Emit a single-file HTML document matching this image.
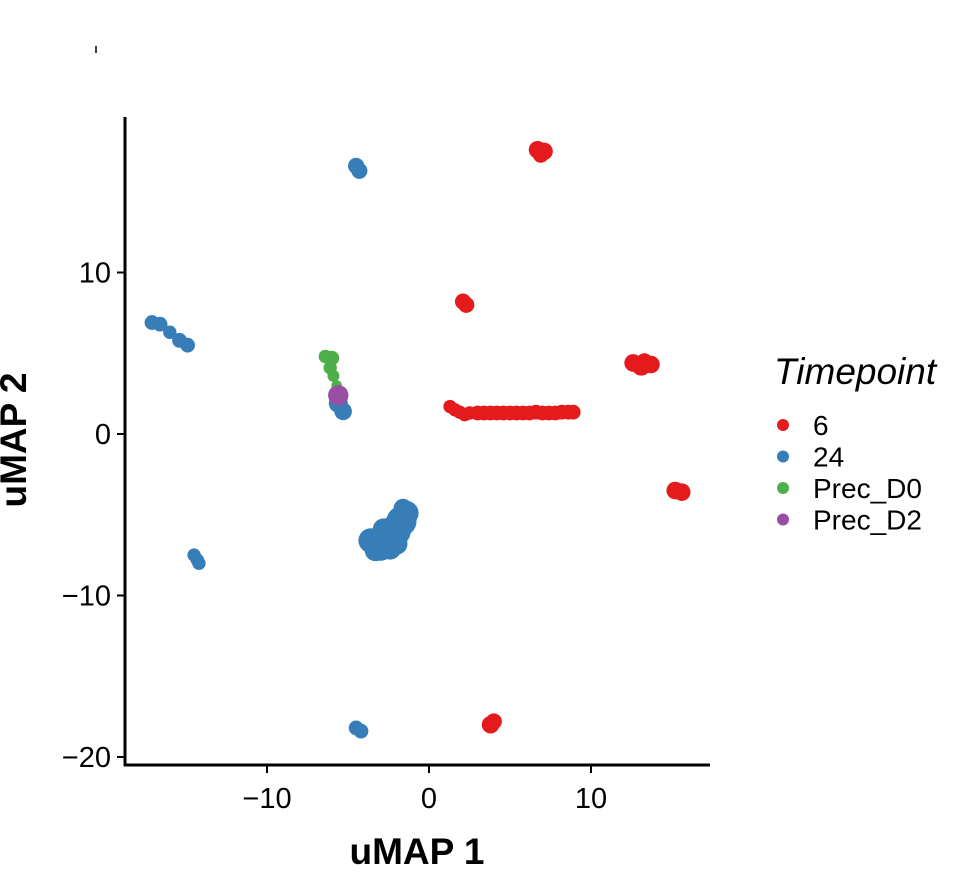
<!DOCTYPE html>
<html><head><meta charset="utf-8"><style>
body{margin:0;background:#fff}
svg text{font-family:"Liberation Sans",sans-serif}
</style></head><body>
<svg id="c" width="969" height="877" xmlns="http://www.w3.org/2000/svg">
<line x1="96" y1="46" x2="96" y2="53" stroke="#000" stroke-width="1.5"/>
<g id="pts"></g>
<g id="ax"></g>
</svg>
<script>
const xTicks=[-10,0,10];
const yTicks=[10,0,-10,-20];
const groups=["6","24","Prec_D0","Prec_D2"];
const colors=["#E41A1C","#377EB8","#4DAF4A","#984EA3"];
// [x, y, radius-in-units] points per group
const pts6=[[6.7,17.6,0.45],[7.1,17.5,0.45],[6.9,17.3,0.4],[2.1,8.2,0.4],[2.3,8.0,0.4],[12.6,4.4,0.45],[13.1,4.2,0.5],[13.7,4.3,0.45],[13.3,4.5,0.4],[15.2,-3.5,0.45],[15.6,-3.6,0.45],[3.8,-18.0,0.45],[4.0,-17.8,0.4],
[1.3,1.7,0.3],[1.6,1.5,0.3],[1.9,1.35,0.3],[2.2,1.2,0.3],[2.5,1.3,0.3],
[3.0,1.3,0.35],[3.4,1.3,0.35],[3.8,1.3,0.35],[4.2,1.3,0.35],[4.6,1.3,0.35],[5.0,1.3,0.35],[5.4,1.3,0.35],[5.8,1.3,0.35],[6.2,1.3,0.35],[6.6,1.35,0.35],[7.0,1.3,0.35],[7.4,1.3,0.35],[7.8,1.3,0.35],[8.2,1.35,0.35],[8.6,1.35,0.35],[8.9,1.35,0.35]];
const pts24=[[-4.5,16.6,0.4],[-4.3,16.3,0.4],[-17.1,6.9,0.35],[-16.6,6.8,0.35],[-16.0,6.3,0.3],[-15.4,5.8,0.35],[-14.9,5.5,0.35],[-14.5,-7.5,0.3],[-14.3,-7.8,0.3],[-14.2,-8.0,0.3],[-4.5,-18.2,0.35],[-4.2,-18.4,0.35],
[-5.6,1.9,0.5],[-5.3,1.4,0.45],[-3.6,-6.6,0.7],[-3.0,-7.0,0.8],[-2.6,-6.6,0.9],[-2.1,-6.0,0.95],[-1.7,-5.4,0.9],[-1.4,-4.9,0.7],[-3.3,-7.2,0.6],[-2.0,-6.8,0.6],[-2.8,-5.9,0.6],[-1.6,-4.6,0.5],[-2.4,-7.1,0.6]];
const ptsD0=[[-6.4,4.8,0.3],[-6.0,4.7,0.35],[-6.1,4.1,0.3],[-5.9,3.6,0.25],[-5.7,3.0,0.2]];
const ptsD2=[[-5.6,2.4,0.55]];
const series=[pts6,pts24,ptsD0,ptsD2];
const NS="http://www.w3.org/2000/svg";
const X=v=>429+16.2*v, Y=v=>434-16.15*v;
const pg=document.getElementById('pts'), ag=document.getElementById('ax');
function mk(t,a,p){const e=document.createElementNS(NS,t);for(const k in a)e.setAttribute(k,a[k]);p.appendChild(e);return e;}
series.forEach((s,i)=>s.forEach(p=>{
 const c=mk('ellipse',{cx:X(p[0]),cy:Y(p[1]),rx:p[2]*14+2.5,ry:p[2]*14+2.5,fill:colors[i]},pg);
 
 
}));
mk('line',{x1:125,y1:117,x2:125,y2:766,stroke:'#000','stroke-width':3},ag);
mk('line',{x1:124,y1:765,x2:710,y2:765,stroke:'#000','stroke-width':3},ag);
xTicks.forEach(v=>{mk('line',{x1:X(v),y1:765,x2:X(v),y2:773,stroke:'#000','stroke-width':2},ag);
 const t=mk('text',{x:X(v),y:808,'font-size':29,'text-anchor':'middle'},ag);t.textContent=v<0?'\u2212'+(-v):v;
 });
yTicks.forEach(v=>{mk('line',{x1:117,y1:Y(v),x2:125,y2:Y(v),stroke:'#000','stroke-width':2},ag);
 const t=mk('text',{x:111,y:Y(v)+10,'font-size':29,'text-anchor':'end'},ag);t.textContent=v<0?'\u2212'+(-v):v;
 });
let t=mk('text',{x:417,y:864,'font-size':37,'font-weight':'bold','text-anchor':'middle'},ag);t.textContent='uMAP 1';

t=mk('text',{x:0,y:0,'font-size':37,'font-weight':'bold','text-anchor':'middle',transform:'translate(26,440) rotate(-90)'},ag);t.textContent='uMAP 2';

t=mk('text',{x:774,y:384,'font-size':37,'font-style':'italic'},ag);t.textContent='Timepoint';

groups.forEach((g,i)=>{const y=425+31.5*i;
 const c=mk('circle',{cx:783,cy:y,r:6,fill:colors[i]},ag);
 const l=mk('text',{x:813,y:y+10,'font-size':28},ag);l.textContent=g;
 });
</script>
</body></html>
